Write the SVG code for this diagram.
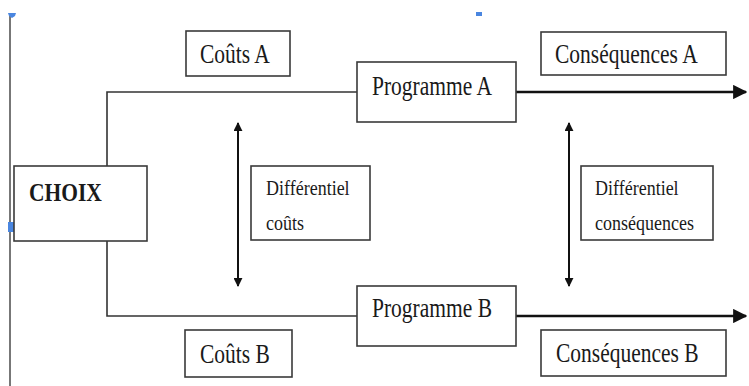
<svg xmlns="http://www.w3.org/2000/svg" width="749" height="386" viewBox="0 0 749 386">
<style>
.box{fill:#fff;stroke:#3a3a3a;stroke-width:1.6}
.t{font-family:"Liberation Serif","Times New Roman",serif;font-size:21.5px;fill:#1a1a1a}
.s{font-family:"Liberation Serif","Times New Roman",serif;font-size:18px;fill:#1a1a1a}
.b{font-weight:bold}
.ln{fill:none;stroke:#333;stroke-width:1.6}
.thick{fill:none;stroke:#111;stroke-width:2.6}
.arr{fill:none;stroke:#111;stroke-width:2}
.blue{fill:#4a86e0}
</style>
<defs>
<marker id="ah" viewBox="0 0 10 10" refX="9" refY="5" markerWidth="4.5" markerHeight="4.5" orient="auto-start-reverse" markerUnits="strokeWidth">
<path d="M0,0 L10,5 L0,10 z" fill="#111"/>
</marker>
<marker id="ah2" viewBox="0 0 10 10" refX="9" refY="5" markerWidth="5.5" markerHeight="5.5" orient="auto-start-reverse" markerUnits="strokeWidth">
<path d="M0,0 L10,5 L0,10 z" fill="#111"/>
</marker>
</defs>

<g id="page-margin">
<line x1="10" y1="16" x2="10" y2="386" stroke="#555" stroke-width="1.6"/>
<path class="blue" d="M8,13 L16,13 L15,16 L12,18 L9,16 z"/>
<rect class="blue" x="476" y="12" width="6" height="4"/>
<rect class="blue" x="8" y="222" width="8" height="10"/>
</g>

<g id="connectors">
<polyline class="ln" points="107,166 107,92 357,92"/>
<polyline class="ln" points="107,241 107,316 357,316"/>
<line class="thick" x1="516" y1="92" x2="746" y2="92" marker-end="url(#ah2)"/>
<line class="thick" x1="516" y1="316" x2="746" y2="316" marker-end="url(#ah2)"/>
<line class="arr" x1="238" y1="123" x2="238" y2="286" marker-start="url(#ah)" marker-end="url(#ah)"/>
<line class="arr" x1="569" y1="123" x2="569" y2="286" marker-start="url(#ah)" marker-end="url(#ah)"/>
</g>

<g id="choix">
<rect class="box" x="14" y="166" width="133" height="75"/>
<text class="t b" transform="translate(29,201) scale(1,1.15)">CHOIX</text>
</g>

<g id="couts-a">
<rect class="box" x="186" y="31" width="104" height="45"/>
<text class="t" transform="translate(200,63) scale(1,1.25)">Coûts A</text>
</g>

<g id="programme-a">
<rect class="box" x="357" y="62" width="159" height="60"/>
<text class="t" transform="translate(372,95) scale(1,1.25)">Programme A</text>
</g>

<g id="consequences-a">
<rect class="box" x="541" y="32" width="185" height="43"/>
<text class="t" transform="translate(555,63) scale(1,1.25)">Conséquences A</text>
</g>

<g id="differentiel-couts">
<rect class="box" x="251" y="166" width="119" height="74"/>
<text class="s" transform="translate(266,195) scale(1,1.12)">Différentiel</text>
<text class="s" transform="translate(266,230) scale(1,1.12)">coûts</text>
</g>

<g id="differentiel-consequences">
<rect class="box" x="581" y="166" width="132" height="74"/>
<text class="s" transform="translate(595,195) scale(1,1.12)">Différentiel</text>
<text class="s" transform="translate(595,230) scale(1,1.12)">conséquences</text>
</g>

<g id="programme-b">
<rect class="box" x="357" y="286" width="159" height="60"/>
<text class="t" transform="translate(372,317) scale(1,1.25)">Programme B</text>
</g>

<g id="couts-b">
<rect class="box" x="185" y="330" width="107" height="47"/>
<text class="t" transform="translate(200,363) scale(1,1.25)">Coûts B</text>
</g>

<g id="consequences-b">
<rect class="box" x="541" y="330" width="185" height="46"/>
<text class="t" transform="translate(556,362) scale(1,1.25)">Conséquences B</text>
</g>
</svg>
